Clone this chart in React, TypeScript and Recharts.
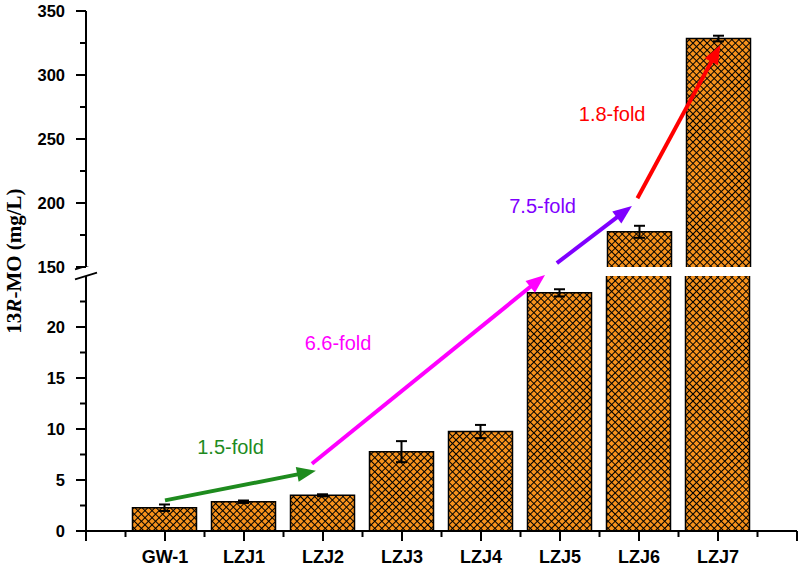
import { BarChart, Bar, XAxis, YAxis, ErrorBar, ReferenceLine, ReferenceDot } from 'recharts'

const categories = ['GW-1', 'LZJ1', 'LZJ2', 'LZJ3', 'LZJ4', 'LZJ5', 'LZJ6', 'LZJ7']
const titers = [2.28, 2.87, 3.5, 7.78, 9.75, 23.35, 177.5, 328.5]
const titerErrors = [0.32, 0.12, 0.1, 1.03, 0.65, 0.35, 4.7, 2.2]

// broken value axis: lower panel 0-25, upper panel 150-350
const lowerDomain = [0, 25]
const upperDomain = [150, 350]
const lowerTicks = [0, 2.5, 5, 7.5, 10, 12.5, 15, 17.5, 20, 22.5]
const upperTicks = [150, 175, 200, 225, 250, 275, 300, 325, 350]
const xTicks = [0, 0.5, 1, 1.5, 2, 2.5, 3, 3.5, 4, 4.5, 5, 5.5, 6, 6.5, 7, 7.5, 8, 8.5, 9]

// fold-change annotations, in category position / mg/L
const foldLabels = ['1.5-fold', '6.6-fold', '7.5-fold', '1.8-fold']
const foldColors = ['#1E8B1E', '#FF00FF', '#7F00FF', '#FF0000']
const foldLabelAt = [[1.83, 7.55], [3.19, 17.75], [5.78, 192.2], [6.66, 263.7]]
const arrowStart = [[1.0, 3.0], [2.86, 6.6], [5.96, 153], [6.98, 203.7]]
const arrowEnd = [[2.91, 5.9], [5.81, 25.1], [6.91, 197.7], [8.03, 323.4]]

const rows = categories.map((name, i) => ({ pos: i + 1, name, value: titers[i], err: titerErrors[i] }))
const lowerRows = rows.map((r) => ({ ...r, err: r.value <= lowerDomain[1] ? r.err : null }))
const upperRows = rows.filter((r) => r.value > upperDomain[0])

const SANS = '"Liberation Sans", Arial, sans-serif'

function YTick(props: any) {
  const { x, y, payload, majorStep } = props
  const v = payload.value
  const major = Math.abs(v / majorStep - Math.round(v / majorStep)) < 1e-6
  return (
    <g>
      <line x1={x - (major ? 10 : 6)} x2={x} y1={y} y2={y} stroke="#000" strokeWidth={2} />
      {major && (
        <text x={x - 21} y={y} textAnchor="end" dominantBaseline="central" fontFamily={SANS} fontWeight="bold" fontSize={16.5} fill="#000">
          {v}
        </text>
      )}
    </g>
  )
}

function XTick(props: any) {
  const { x, y, payload } = props
  const v = payload.value
  const major = Number.isInteger(v)
  const label = categories[v - 1]
  return (
    <g>
      <line x1={x} x2={x} y1={y} y2={y + (major ? 10 : 6)} stroke="#000" strokeWidth={2} />
      {major && label && (
        <text x={x} y={y + 32} textAnchor="middle" fontFamily={SANS} fontWeight="bold" fontSize={18} fill="#000">
          {label}
        </text>
      )}
    </g>
  )
}

function HatchBar(props: any) {
  const { x, y, width, height, fill } = props
  if (!width || !height) return null
  return (
    <g>
      <rect x={x} y={y} width={width} height={height} fill={fill} />
      <path d={`M${x},${y + height} V${y} H${x + width} V${y + height}`} fill="none" stroke="#000" strokeWidth={1.5} />
    </g>
  )
}

const arrowShape = (color: string) => (p: any) => {
  const { x1, y1, x2, y2 } = p
  const dx = x2 - x1
  const dy = y2 - y1
  const len = Math.hypot(dx, dy)
  const ux = dx / len
  const uy = dy / len
  const head = 19
  const half = 7.5
  const bx = x2 - ux * head
  const by = y2 - uy * head
  return (
    <g>
      <line x1={x1} y1={y1} x2={bx + ux * 3} y2={by + uy * 3} stroke={color} strokeWidth={4} />
      <polygon points={`${x2},${y2} ${bx - uy * half},${by + ux * half} ${bx + uy * half},${by - ux * half}`} fill={color} />
    </g>
  )
}

const textShape = (text: string, color: string) => (p: any) => (
  <text x={p.cx} y={p.cy} textAnchor="middle" fontFamily={SANS} fontSize={20} fill={color}>
    {text}
  </text>
)

const breakShape = (p: any) => {
  const { cx, cy } = p
  return (
    <g stroke="#000" strokeWidth={1.8}>
      <line x1={cx - 11} y1={cy + 3.3} x2={cx + 11} y2={cy - 3.3} />
      <line x1={cx - 11} y1={cy - 10 + 3.3} x2={cx + 11} y2={cy - 10 - 3.3} />
    </g>
  )
}

function Hatch({ id }: { id: string }) {
  return (
    <defs>
      <pattern id={id} width={5} height={5} patternUnits="userSpaceOnUse" patternTransform="rotate(45)">
        <rect width={5} height={5} fill="#F7921C" />
        <path d="M0,0 H5 M0,0 V5" stroke="#000" strokeWidth={2} />
      </pattern>
    </defs>
  )
}

function annotations(panel: 'lower' | 'upper') {
  const inPanel = (v: number) => (panel === 'upper' ? v >= upperDomain[0] : v < upperDomain[0])
  const out: any[] = []
  foldLabels.forEach((label, i) => {
    if (inPanel(arrowStart[i][1])) {
      out.push(
        <ReferenceLine
          key={'a' + i}
          segment={[{ x: arrowStart[i][0], y: arrowStart[i][1] }, { x: arrowEnd[i][0], y: arrowEnd[i][1] }]}
          ifOverflow="visible"
          shape={arrowShape(foldColors[i])}
        />
      )
    }
    if (inPanel(foldLabelAt[i][1])) {
      out.push(
        <ReferenceDot
          key={'t' + i}
          x={foldLabelAt[i][0]}
          y={foldLabelAt[i][1]}
          r={0}
          ifOverflow="visible"
          shape={textShape(label, foldColors[i])}
        />
      )
    }
  })
  return out
}

export default function App() {
  return (
    <div style={{ position: 'absolute', left: 0, top: 0, width: 799, height: 571, background: '#fff' }}>
      <div style={{ position: 'absolute', left: 0, top: 0 }}>
        <BarChart width={799} height={280} data={upperRows} margin={{ top: 11, right: 2, bottom: 13, left: 0 }}>
          <Hatch id="hatchUpper" />
          <XAxis type="number" dataKey="pos" domain={[0, 9]} ticks={xTicks} hide />
          <YAxis
            width={86}
            domain={upperDomain}
            ticks={upperTicks}
            interval={0}
            allowDataOverflow
            axisLine={{ stroke: '#000', strokeWidth: 2 }}
            tickLine={false}
            tickSize={0}
            tickMargin={0}
            tick={(p: any) => <YTick {...p} majorStep={50} />}
          />
          <Bar dataKey="value" barSize={64} fill="url(#hatchUpper)" shape={HatchBar} isAnimationActive={false}>
            <ErrorBar dataKey="err" direction="y" width={5.5} stroke="#000" strokeWidth={2} isAnimationActive={false} />
          </Bar>
          {annotations('upper')}
        </BarChart>
      </div>
      <div style={{ position: 'absolute', left: 0, top: 266 }}>
        <BarChart width={799} height={305} data={lowerRows} margin={{ top: 10, right: 2, bottom: 0, left: 0 }}>
          <Hatch id="hatchLower" />
          <XAxis
            type="number"
            dataKey="pos"
            domain={[0, 9]}
            ticks={xTicks}
            interval={0}
            height={40}
            axisLine={{ stroke: '#000', strokeWidth: 2 }}
            tickLine={false}
            tickSize={0}
            tickMargin={0}
            tick={(p: any) => <XTick {...p} />}
          />
          <YAxis
            width={86}
            domain={lowerDomain}
            ticks={lowerTicks}
            interval={0}
            allowDataOverflow
            axisLine={{ stroke: '#000', strokeWidth: 2 }}
            tickLine={false}
            tickSize={0}
            tickMargin={0}
            tick={(p: any) => <YTick {...p} majorStep={5} />}
          />
          <Bar dataKey="value" barSize={64} fill="url(#hatchLower)" shape={HatchBar} isAnimationActive={false}>
            <ErrorBar dataKey="err" direction="y" width={5.5} stroke="#000" strokeWidth={2} isAnimationActive={false} />
          </Bar>
          <ReferenceDot x={0} y={lowerDomain[1]} r={0} ifOverflow="visible" shape={breakShape} />
          {annotations('lower')}
        </BarChart>
      </div>
      <svg style={{ position: 'absolute', left: 0, top: 0 }} width={40} height={571}>
        <text
          transform="translate(14,261) rotate(-90)"
          textAnchor="middle"
          dominantBaseline="central"
          fontFamily='"Liberation Serif", "Times New Roman", serif'
          fontWeight="bold"
          fontSize={21}
          fill="#000"
        >
          13<tspan fontStyle="italic">R</tspan>-MO (mg/L)
        </text>
      </svg>
    </div>
  )
}
